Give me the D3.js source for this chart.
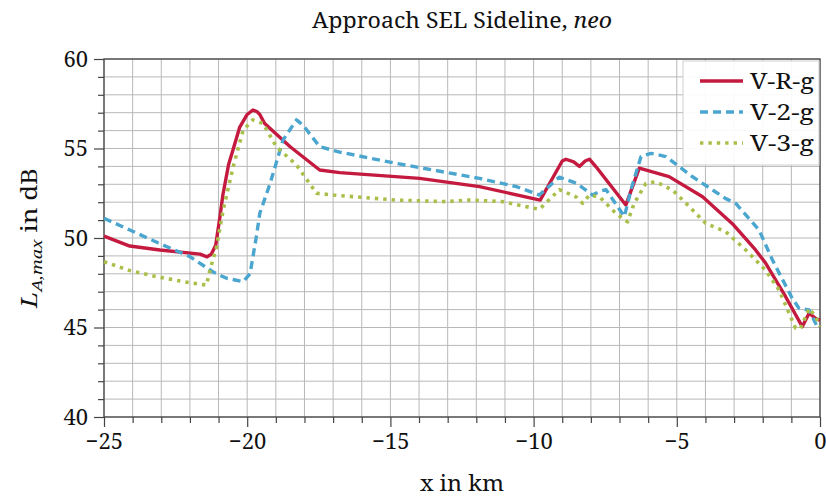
<!DOCTYPE html>
<html>
<head>
<meta charset="utf-8">
<script src="https://cdn.jsdelivr.net/npm/d3@7"></script>
<style>
  html, body { margin: 0; padding: 0; background: #fff; }
</style>
</head>
<body>
<svg id="chart" width="826" height="498"></svg>
<script>
// Sideline SEL along the approach path, three configurations
const seriesNames = ["V-R-g", "V-2-g", "V-3-g"];

const xVR = [-25, -24.1, -23.05, -21.65, -21.4, -21.25, -21.1, -20.95, -20.85, -20.65, -20.5, -20.26, -20.0, -19.8, -19.65, -19.56, -19.39, -18.5, -17.47, -16.77, -13.98, -11.89, -9.77, -9.0, -8.87, -8.6, -8.4, -8.2, -8.05, -7.82, -6.78, -6.31, -5.27, -4.1, -3.06, -2.25, -1.9, -1.2, -0.62, -0.38, -0.15, 0];
const yVR = [50.1, 49.55, 49.33, 49.1, 48.95, 49.1, 49.6, 51.2, 52.4, 54.1, 54.9, 56.2, 56.9, 57.15, 57.05, 56.9, 56.4, 55.1, 53.8, 53.65, 53.33, 52.87, 52.12, 54.3, 54.4, 54.25, 54.0, 54.3, 54.4, 53.98, 51.84, 53.9, 53.43, 52.3, 50.8, 49.33, 48.6, 46.72, 45.05, 45.8, 45.5, 45.4];

const xV2 = [-25, -24.1, -23.1, -22.0, -21.19, -20.72, -20.14, -19.9, -19.68, -19.56, -19.2, -18.75, -18.28, -18.05, -17.47, -16.77, -14.8, -11.89, -10.6, -9.8, -9.1, -8.5, -7.94, -7.7, -7.47, -6.83, -6.6, -6.25, -5.9, -5.38, -4.45, -3.29, -2.94, -2.13, -1.66, -0.97, -0.73, -0.38, -0.1, 0];
const yV2 = [51.1, 50.45, 49.72, 48.96, 48.1, 47.75, 47.56, 48.0, 50.08, 51.38, 53.05, 55.47, 56.6, 56.3, 55.1, 54.8, 54.17, 53.33, 52.87, 52.4, 53.4, 53.05, 52.4, 52.6, 52.7, 51.2, 52.7, 54.55, 54.73, 54.55, 53.42, 52.2, 51.93, 50.45, 48.77, 46.63, 46.07, 45.98, 45.05, 45.0];

const xV3 = [-25, -24.1, -23.16, -22.0, -21.42, -21.3, -21.07, -20.84, -20.49, -20.14, -19.8, -19.45, -18.98, -18.28, -17.58, -17.0, -14.8, -13.05, -12.24, -11.08, -9.8, -9.1, -8.52, -8.29, -8.05, -7.7, -7.13, -6.72, -6.49, -6.08, -5.73, -5.15, -4.68, -3.99, -3.29, -2.59, -1.9, -1.43, -1.08, -0.85, -0.68, -0.5, -0.38, -0.15, 0];
const yV3 = [48.68, 48.18, 47.84, 47.5, 47.37, 48.2, 49.5, 51.56, 53.98, 56.03, 56.6, 56.4, 55.1, 54.08, 52.5, 52.4, 52.12, 52.03, 52.12, 52.03, 51.6, 52.7, 52.3, 51.94, 52.4, 52.3, 51.38, 50.9, 51.93, 53.05, 53.14, 52.68, 51.94, 50.82, 50.35, 49.33, 48.2, 47.1, 45.8, 44.95, 44.95, 45.6, 46.07, 45.6, 45.05];

const xTicks = [-25, -20, -15, -10, -5, 0];
const yTicks = [40, 45, 50, 55, 60];

const FONT = '"Noto Serif", serif';
const svg = d3.select("#chart");
const margin = { left: 104, right: 6, top: 59, bottom: 81 };
const W = 826, H = 498;
const x = d3.scaleLinear().domain([-25, 0]).range([margin.left, W - margin.right]);
const y = d3.scaleLinear().domain([40, 60]).range([H - margin.bottom, margin.top]);

const styles = [
  { color: "#c41a3f", dash: null, width: 3.4 },
  { color: "#4aa6cf", dash: "8,5", width: 3.4 },
  { color: "#a8c04a", dash: "3.4,5", width: 3.6 }
];

// Grid: every 1 km and every 1 dB
const grid = svg.append("g");
d3.range(-25, 1, 1).forEach(v => {
  grid.append("line").attr("x1", x(v)).attr("x2", x(v)).attr("y1", y(40)).attr("y2", y(60))
    .attr("stroke", "#b8b8b8").attr("stroke-width", 1);
});
d3.range(40, 61, 1).forEach(v => {
  grid.append("line").attr("x1", x(-25)).attr("x2", x(0)).attr("y1", y(v)).attr("y2", y(v))
    .attr("stroke", "#b8b8b8").attr("stroke-width", 1);
});

// Axes with major and minor ticks pointing outward
const xAxis = svg.append("g").attr("transform", `translate(0,${y(40)})`)
  .call(d3.axisBottom(x).tickValues(xTicks).tickSize(10).tickPadding(6)
    .tickFormat(d => d === 0 ? "0" : "\u2212" + Math.abs(d)));
xAxis.select(".domain").remove();
svg.append("g").attr("transform", `translate(0,${y(40)})`)
  .call(d3.axisBottom(x).tickValues(d3.range(-25, 1, 1).filter(v => v % 5 !== 0)).tickSize(6).tickFormat(""))
  .select(".domain").remove();

const yAxis = svg.append("g").attr("transform", `translate(${x(-25)},0)`)
  .call(d3.axisLeft(y).tickValues(yTicks).tickSize(10).tickPadding(6));
yAxis.select(".domain").remove();
svg.append("g").attr("transform", `translate(${x(-25)},0)`)
  .call(d3.axisLeft(y).tickValues(d3.range(40, 61, 1).filter(v => v % 5 !== 0)).tickSize(6).tickFormat(""))
  .select(".domain").remove();

svg.selectAll(".tick line").attr("stroke", "#444").attr("stroke-width", 1.2);
svg.selectAll(".tick text").style("font-family", FONT).style("font-size", "22px").attr("fill", "#111");

// Frame
svg.append("rect").attr("x", x(-25)).attr("y", y(60)).attr("width", x(0) - x(-25)).attr("height", y(40) - y(60))
  .attr("fill", "none").attr("stroke", "#444").attr("stroke-width", 1.3);

// Series
const allX = [xVR, xV2, xV3], allY = [yVR, yV2, yV3];
const line = d3.line().x(d => x(d[0])).y(d => y(d[1]));
const plot = svg.append("g");
seriesNames.forEach((name, i) => {
  const pts = allX[i].map((v, j) => [v, allY[i][j]]);
  plot.append("path").datum(pts).attr("d", line)
    .attr("fill", "none").attr("stroke", styles[i].color).attr("stroke-width", styles[i].width)
    .attr("stroke-linejoin", "round")
    .attr("stroke-dasharray", styles[i].dash);
});

// Legend
const lg = svg.append("g").attr("transform", `translate(${683},${61})`);
lg.append("rect").attr("width", 136).attr("height", 104).attr("fill", "#fff").attr("fill-opacity", 0.92)
  .attr("stroke", "#cfcfcf").attr("stroke-width", 1);
seriesNames.forEach((name, i) => {
  const cy = 20 + i * 31;
  lg.append("line").attr("x1", 17).attr("x2", 60).attr("y1", cy).attr("y2", cy)
    .attr("stroke", styles[i].color).attr("stroke-width", styles[i].width)
    .attr("stroke-dasharray", styles[i].dash);
  lg.append("text").attr("x", 67).attr("y", cy + 8)
    .style("font-family", FONT).style("font-size", "22px").attr("fill", "#111")
    .attr("textLength", 64).attr("lengthAdjust", "spacingAndGlyphs").text(name);
});

// Titles
const title = svg.append("text").attr("x", (x(-25) + x(0)) / 2).attr("y", 28)
  .attr("text-anchor", "middle").style("font-family", FONT).style("font-size", "22px").attr("fill", "#111")
  .attr("textLength", 300).attr("lengthAdjust", "spacingAndGlyphs");
title.append("tspan").text("Approach SEL Sideline, ");
title.append("tspan").style("font-style", "italic").text("neo");

svg.append("text").attr("x", (x(-25) + x(0)) / 2).attr("y", 491)
  .attr("text-anchor", "middle").style("font-family", FONT).style("font-size", "22px").attr("fill", "#111")
  .attr("textLength", 84).attr("lengthAdjust", "spacingAndGlyphs").text("x in km");

const yl = svg.append("text").attr("transform", `translate(37,${(y(40) + y(60)) / 2}) rotate(-90)`)
  .attr("text-anchor", "middle").style("font-family", FONT).style("font-size", "22px").attr("fill", "#111")
  .attr("textLength", 140).attr("lengthAdjust", "spacingAndGlyphs");
yl.append("tspan").style("font-style", "italic").text("L");
yl.append("tspan").attr("dy", 5).style("font-size", "15px").style("font-style", "italic").text("A,max");
yl.append("tspan").attr("dy", -5).text(" in dB");
</script>
</body>
</html>
